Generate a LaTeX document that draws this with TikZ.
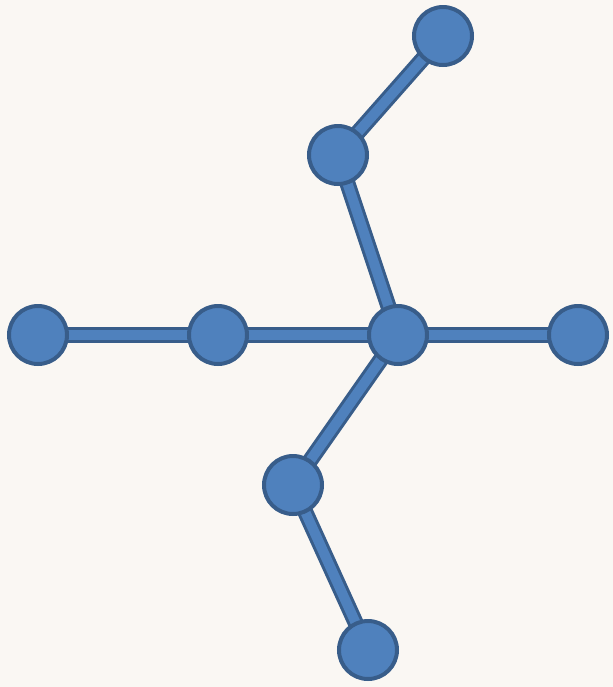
\documentclass[tikz,border=0pt]{standalone}
\usepackage{xcolor}
\usepackage{tikz}
\usetikzlibrary{positioning, backgrounds}
\definecolor{treeblue}{RGB}{79,129,189}
\definecolor{treedark}{RGB}{56,93,138}
\definecolor{paper}{RGB}{250,247,243}
\pgfdeclarelayer{edgelayer}
\pgfsetlayers{background,edgelayer,main}
\tikzset{
  treeedge/.style={line width=1.5pt, draw=treedark, double=treeblue, double distance=5pt}
}

\begin{document}
\begin{tikzpicture}[
  x=0.5pt, y=-0.5pt,
  vert/.style={circle, draw=treedark, fill=treeblue, line width=2pt, minimum size=29pt, inner sep=0pt}
]

% background sheet
\begin{pgfonlayer}{background}
\fill[paper] (0,0) rectangle (613,687);
\end{pgfonlayer}
\useasboundingbox (0,0) rectangle (613,687);

% vertices
\node[vert] (top) at (443,36) {};
\node[vert] (up) at (338,155) {};
\node[vert] (la) at (38,335) {};
\node[vert] (lb) at (218,335) {};
\node[vert] (hub) at (398,335) {};
\node[vert] (ra) at (578,335) {};
\node[vert] (low) at (293,485) {};
\node[vert] (bot) at (368,650) {};

% edges (behind vertices)
\begin{pgfonlayer}{edgelayer}
\draw[treeedge] (top.center) -- (up.center);
\draw[treeedge] (up.center) -- (hub.center);
\draw[treeedge] (la.center) -- (lb.center);
\draw[treeedge] (lb.center) -- (hub.center);
\draw[treeedge] (hub.center) -- (ra.center);
\draw[treeedge] (hub.center) -- (low.center);
\draw[treeedge] (low.center) -- (bot.center);
\end{pgfonlayer}

\end{tikzpicture}
\end{document}
